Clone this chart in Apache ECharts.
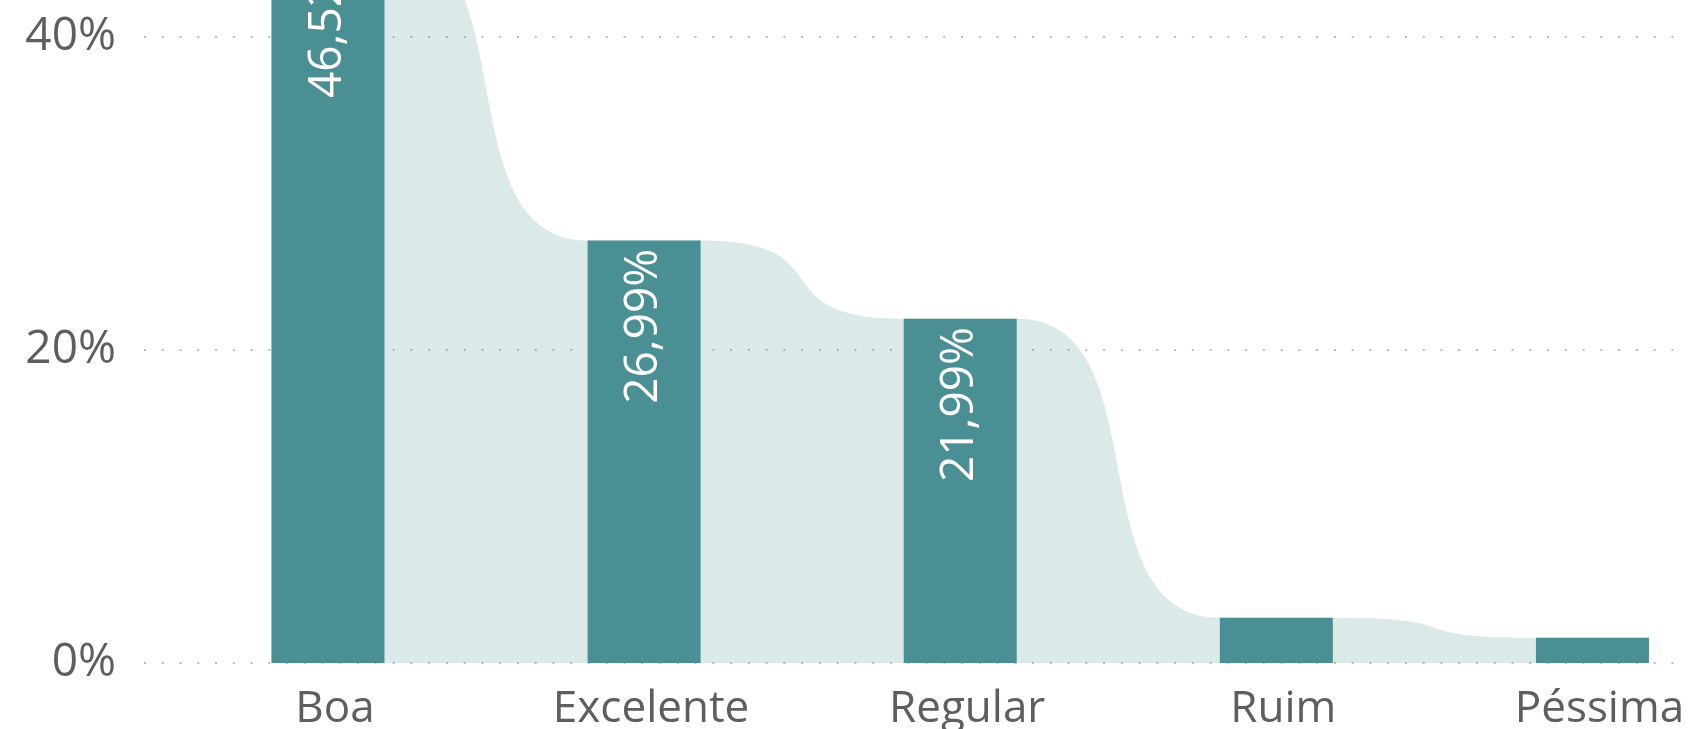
<!DOCTYPE html>
<html>
<head>
<meta charset="utf-8">
<script src="https://cdn.jsdelivr.net/npm/echarts@6/dist/echarts.min.js"></script>
<style>
    html, body { margin: 0; padding: 0; background: #fff; }
    #chart { width: 1688px; height: 729px; }
</style>
</head>
<body>
<div id="chart"></div>
<script>
var categories = ['Boa', 'Excelente', 'Regular', 'Ruim', 'Péssima'];
var shares = [46.52, 26.99, 21.99, 2.89, 1.61];
var yMax = 60;
var yInterval = 20;

var barColor = '#4a8f93';
var labelColor = '#605e5c';
var fontFamily = '"Open Sans", "Noto Sans", sans-serif';
// half of the bar width, in category units (113px bar, ~316px per category)
var barHalf = 0.1788;

function formatShare(v) {
    return v.toFixed(2).replace('.', ',') + '%';
}

// ribbon follows the bar tops, flat over each bar, curved between them
function getRibbonData() {
    var pts = [];
    shares.forEach(function (v, i) {
        pts.push([i - barHalf, v]);
        pts.push([i + barHalf, v]);
    });
    return pts;
}

function getBarData() {
    return shares.map(function (v, i) {
        return {
            value: [i, v],
            label: { show: v >= 10 }
        };
    });
}

var chart = echarts.init(document.getElementById('chart'));

var option = {
    animation: false,
    grid: {
        left: 144,
        right: 8,
        top: -276,
        bottom: 66,
        containLabel: false,
        outerBoundsMode: 'none'
    },
    xAxis: {
        type: 'value',
        min: -0.582,
        max: 4.277,
        splitLine: { show: false },
        axisLine: { show: false },
        axisTick: { show: false },
        axisLabel: {
            customValues: categories.map(function (c, i) { return i; }),
            formatter: function (v) {
                return categories[Math.round(v)] || '';
            },
            color: labelColor,
            fontFamily: fontFamily,
            fontSize: 44,
            margin: 24,
            padding: [0, 0, 0, 14]
        }
    },
    yAxis: {
        type: 'value',
        min: 0,
        max: yMax,
        interval: yInterval,
        axisLine: { show: false },
        axisTick: { show: false },
        axisLabel: {
            formatter: '{value}%',
            color: labelColor,
            fontFamily: fontFamily,
            fontSize: 46,
            margin: 28
        },
        splitLine: {
            show: true,
            lineStyle: {
                color: '#bcbcbc',
                width: 2,
                type: [2, 15.76]
            }
        }
    },
    series: [
        {
            name: 'ribbon',
            type: 'line',
            data: getRibbonData(),
            smooth: 0.72,
            smoothMonotone: 'x',
            symbol: 'none',
            silent: true,
            z: 1,
            lineStyle: { width: 0, opacity: 0 },
            areaStyle: { color: barColor, opacity: 0.2 }
        },
        {
            name: 'share',
            type: 'bar',
            data: getBarData(),
            barWidth: 113,
            z: 3,
            itemStyle: { color: barColor },
            label: {
                position: 'insideTop',
                rotate: 90,
                align: 'right',
                verticalAlign: 'middle',
                distance: 8,
                color: '#ffffff',
                fontFamily: fontFamily,
                fontSize: 46,
                formatter: function (p) {
                    return formatShare(p.value[1]);
                }
            }
        }
    ]
};

chart.setOption(option);
</script>
</body>
</html>
